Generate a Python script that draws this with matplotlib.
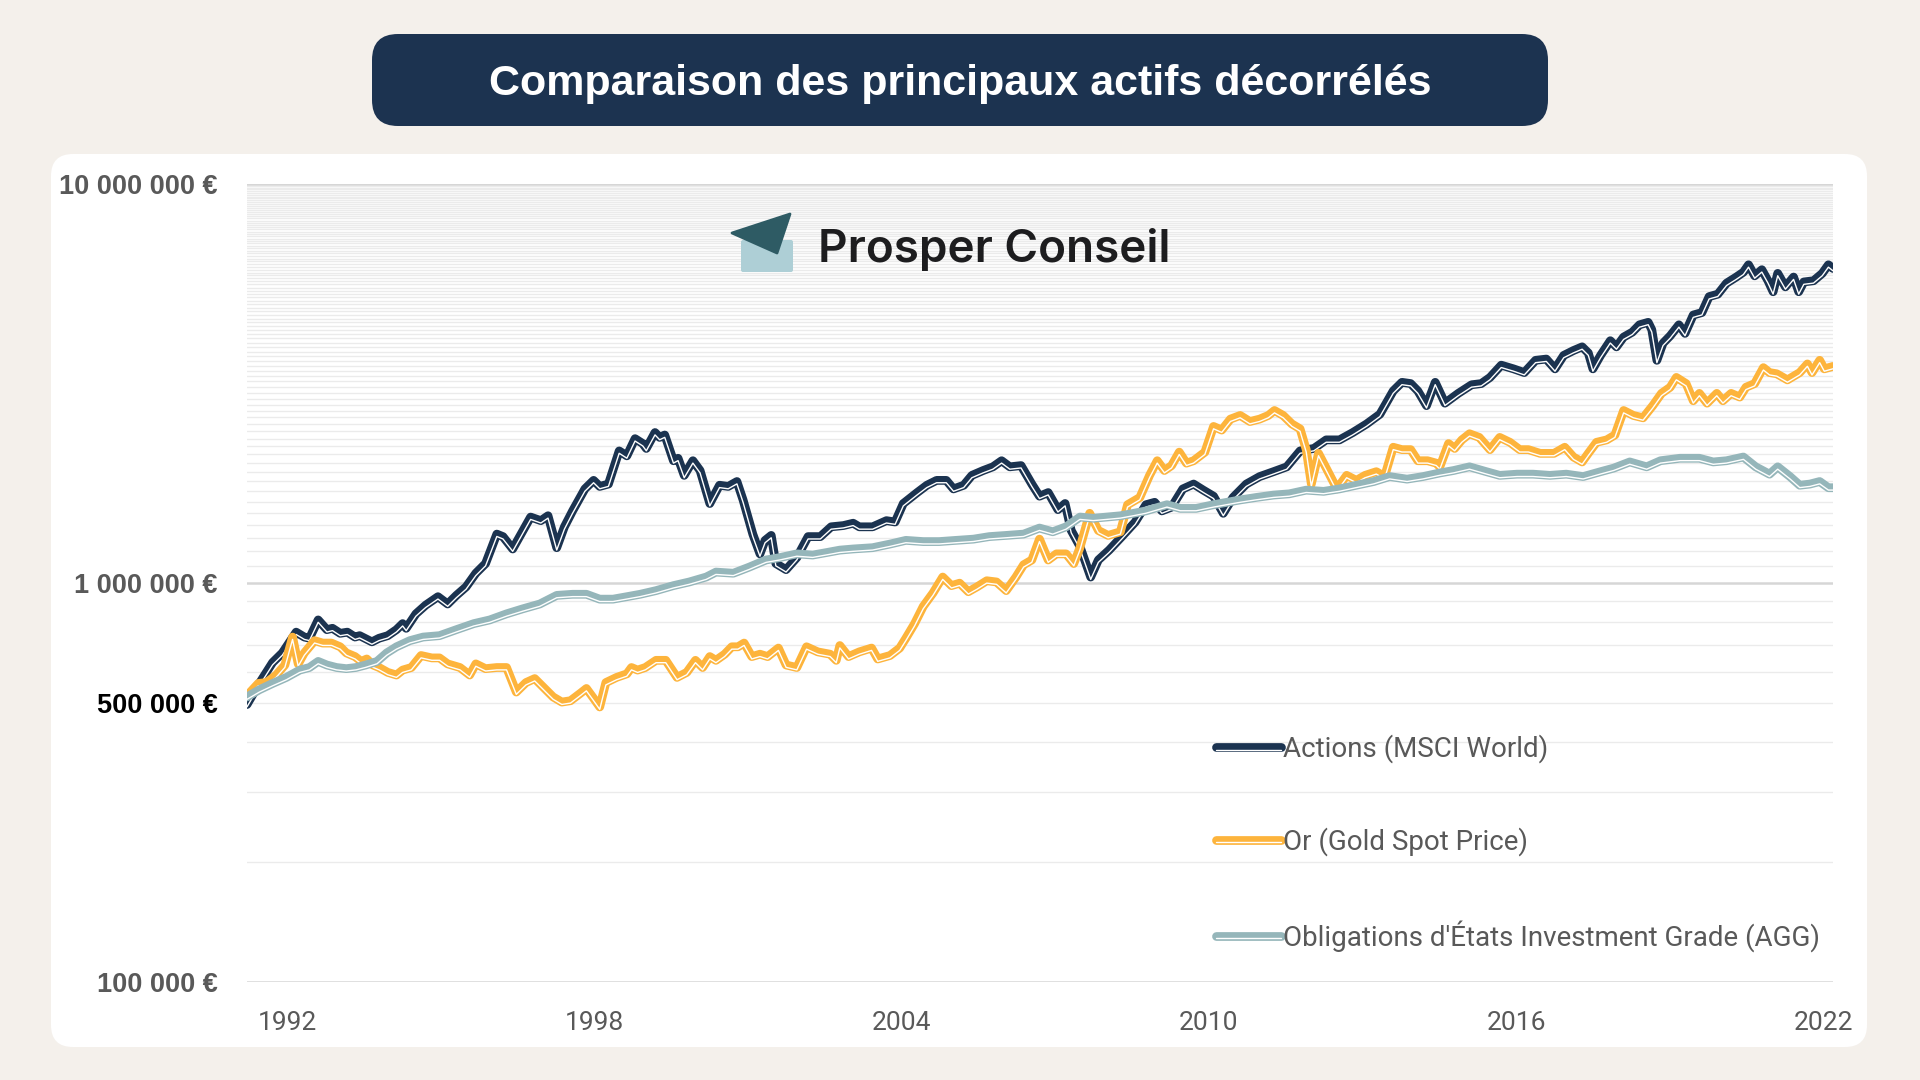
import numpy as np
import matplotlib
matplotlib.use("Agg")
import matplotlib.pyplot as plt
import matplotlib.patheffects as pe
from matplotlib.patches import FancyBboxPatch, Polygon
from matplotlib.ticker import NullLocator, NullFormatter

# Données (valeurs en milliers d'euros)
actions_annees = [1991.21, 1991.45, 1991.71, 1991.90, 1992.17, 1992.33, 1992.43, 1992.60, 1992.77, 1992.88,
                  1993.03, 1993.17, 1993.32, 1993.41, 1993.51, 1993.65, 1993.79, 1993.96, 1994.13, 1994.25,
                  1994.32, 1994.51, 1994.70, 1994.94, 1995.13, 1995.30, 1995.49, 1995.68, 1995.87, 1996.09,
                  1996.21, 1996.40, 1996.59, 1996.75, 1996.95, 1997.09, 1997.26, 1997.41, 1997.57, 1997.81,
                  1997.98, 1998.10, 1998.27, 1998.48, 1998.63, 1998.79, 1998.94, 1999.01, 1999.18, 1999.27,
                  1999.37, 1999.54, 1999.63, 1999.75, 1999.92, 2000.06, 2000.25, 2000.44, 2000.61, 2000.78,
                  2000.90, 2001.09, 2001.23, 2001.33, 2001.45, 2001.54, 2001.74, 2001.95, 2002.17, 2002.41,
                  2002.62, 2002.86, 2003.05, 2003.17, 2003.43, 2003.70, 2003.87, 2004.03, 2004.30, 2004.49,
                  2004.68, 2004.87, 2005.01, 2005.21, 2005.37, 2005.59, 2005.78, 2005.95, 2006.11, 2006.33,
                  2006.54, 2006.69, 2006.86, 2007.05, 2007.19, 2007.31, 2007.48, 2007.69, 2007.84, 2008.05,
                  2008.32, 2008.56, 2008.77, 2008.94, 2009.08, 2009.27, 2009.49, 2009.70, 2009.89, 2010.09,
                  2010.28, 2010.47, 2010.73, 2010.99, 2011.26, 2011.52, 2011.78, 2012.05, 2012.29, 2012.55,
                  2012.81, 2013.08, 2013.34, 2013.60, 2013.77, 2013.94, 2014.08, 2014.25, 2014.42, 2014.61,
                  2014.87, 2015.13, 2015.32, 2015.49, 2015.71, 2015.95, 2016.16, 2016.38, 2016.59, 2016.76,
                  2016.93, 2017.12, 2017.29, 2017.41, 2017.50, 2017.65, 2017.84, 2017.96, 2018.10, 2018.27,
                  2018.41, 2018.58, 2018.65, 2018.75, 2018.87, 2019.01, 2019.18, 2019.30, 2019.46, 2019.63,
                  2019.77, 2019.94, 2020.11, 2020.30, 2020.44, 2020.54, 2020.66, 2020.80, 2020.92, 2021.02,
                  2021.11, 2021.26, 2021.42, 2021.52, 2021.62, 2021.81, 2021.98, 2022.10, 2022.19]
actions_k = [496, 560, 632, 668, 753, 732, 727, 808, 764, 770,
             748, 753, 732, 738, 727, 712, 727, 738, 764, 791,
             770, 837, 880, 924, 886, 931, 978, 1058, 1119, 1326,
             1307, 1217, 1344, 1463, 1433, 1474, 1226, 1383, 1516, 1721,
             1808, 1746, 1770, 2143, 2083, 2300, 2236, 2174, 2383, 2317,
             2349, 2025, 2054, 1861, 2025, 1914, 1582, 1758, 1746, 1796,
             1615, 1326, 1183, 1279, 1316, 1119, 1080, 1158, 1307, 1307,
             1383, 1393, 1412, 1383, 1383, 1433, 1422, 1582, 1685, 1758,
             1808, 1808, 1721, 1758, 1861, 1914, 1955, 2025, 1955, 1969,
             1770, 1650, 1685, 1527, 1582, 1354, 1235, 1035, 1142, 1209,
             1316, 1422, 1571, 1593, 1516, 1549, 1721, 1770, 1709, 1650,
             1495, 1638, 1770, 1848, 1901, 1955, 2143, 2174, 2284, 2284,
             2383, 2504, 2649, 3030, 3184, 3161, 3030, 2783, 3184, 2823,
             2987, 3139, 3161, 3275, 3515, 3441, 3368, 3615, 3641, 3441,
             3719, 3825, 3907, 3772, 3441, 3719, 4048, 3907, 4134, 4253,
             4437, 4501, 4314, 3615, 3991, 4164, 4437, 4223, 4695, 4762,
             5221, 5295, 5642, 5845, 6012, 6273, 5886, 6098, 5722, 5370,
             5970, 5524, 5845, 5370, 5682, 5722, 5970, 6273, 6142]

or_annees = [1991.21, 1991.43, 1991.59, 1991.78, 1991.95, 1992.10, 1992.21, 1992.33, 1992.53, 1992.69,
             1992.86, 1993.03, 1993.15, 1993.32, 1993.44, 1993.55, 1993.67, 1993.79, 1993.96, 1994.13,
             1994.25, 1994.42, 1994.61, 1994.82, 1994.97, 1995.13, 1995.37, 1995.56, 1995.68, 1995.87,
             1996.09, 1996.28, 1996.47, 1996.66, 1996.83, 1997.00, 1997.19, 1997.36, 1997.53, 1997.72,
             1997.84, 1997.98, 1998.10, 1998.22, 1998.43, 1998.63, 1998.72, 1998.84, 1998.99, 1999.20,
             1999.39, 1999.61, 1999.80, 1999.97, 2000.11, 2000.25, 2000.37, 2000.54, 2000.68, 2000.80,
             2000.92, 2001.07, 2001.23, 2001.38, 2001.59, 2001.74, 2001.95, 2002.14, 2002.36, 2002.60,
             2002.72, 2002.79, 2002.96, 2003.17, 2003.41, 2003.53, 2003.77, 2003.96, 2004.08, 2004.25,
             2004.42, 2004.61, 2004.80, 2004.97, 2005.13, 2005.30, 2005.47, 2005.66, 2005.85, 2006.04,
             2006.23, 2006.38, 2006.54, 2006.69, 2006.86, 2007.02, 2007.21, 2007.36, 2007.48, 2007.67,
             2007.84, 2008.03, 2008.27, 2008.41, 2008.65, 2008.84, 2008.99, 2009.13, 2009.27, 2009.42,
             2009.56, 2009.70, 2009.92, 2010.09, 2010.25, 2010.42, 2010.61, 2010.80, 2010.99, 2011.16,
             2011.28, 2011.45, 2011.62, 2011.78, 2011.90, 2012.00, 2012.14, 2012.29, 2012.50, 2012.69,
             2012.88, 2013.05, 2013.27, 2013.43, 2013.60, 2013.77, 2013.94, 2014.08, 2014.27, 2014.44,
             2014.51, 2014.68, 2014.80, 2014.94, 2015.09, 2015.28, 2015.49, 2015.68, 2015.88, 2016.07,
             2016.24, 2016.47, 2016.74, 2016.95, 2017.12, 2017.29, 2017.41, 2017.57, 2017.77, 2017.93,
             2018.10, 2018.29, 2018.48, 2018.67, 2018.84, 2019.01, 2019.13, 2019.32, 2019.46, 2019.58,
             2019.73, 2019.92, 2020.04, 2020.20, 2020.37, 2020.49, 2020.66, 2020.83, 2020.95, 2021.09,
             2021.30, 2021.54, 2021.69, 2021.78, 2021.93, 2022.02, 2022.19]
or_k = [522, 560, 563, 588, 623, 732, 627, 668, 717, 707,
        707, 692, 668, 654, 636, 645, 623, 614, 597, 588,
        605, 614, 658, 649, 649, 627, 614, 588, 627, 610,
        614, 614, 533, 563, 576, 548, 518, 503, 507, 529,
        544, 514, 489, 563, 580, 592, 614, 605, 614, 640,
        640, 580, 597, 640, 614, 654, 640, 663, 692, 692,
        707, 654, 663, 654, 687, 623, 614, 692, 672, 663,
        640, 697, 654, 672, 687, 645, 658, 687, 727, 791,
        874, 944, 1035, 985, 999, 951, 978, 1013, 1006, 957,
        1035, 1111, 1142, 1288, 1142, 1183, 1183, 1119, 1226, 1495,
        1354, 1316, 1344, 1571, 1638, 1861, 2025, 1914, 1969, 2128,
        1997, 2025, 2128, 2468, 2417, 2575, 2630, 2539, 2575, 2630,
        2706, 2630, 2504, 2434, 2159, 1770, 2113, 1941, 1721, 1861,
        1808, 1861, 1901, 1848, 2189, 2159, 2159, 2025, 2025, 1997,
        1955, 2236, 2174, 2284, 2366, 2317, 2159, 2317, 2252, 2159,
        2159, 2113, 2113, 2189, 2069, 2011, 2113, 2252, 2284, 2349,
        2706, 2630, 2594, 2783, 2987, 3095, 3275, 3161, 2863, 2987,
        2823, 2987, 2863, 2987, 2924, 3095, 3161, 3465, 3368, 3345,
        3229, 3368, 3540, 3368, 3615, 3441, 3490]

oblig_annees = [1991.21, 1991.45, 1991.71, 1991.98, 1992.24, 1992.43, 1992.60, 1992.77, 1992.96, 1993.15,
                1993.34, 1993.53, 1993.75, 1993.94, 1994.13, 1994.39, 1994.65, 1994.97, 1995.30, 1995.64,
                1995.95, 1996.28, 1996.59, 1996.93, 1997.26, 1997.57, 1997.84, 1998.10, 1998.36, 1998.63,
                1998.89, 1999.20, 1999.54, 1999.85, 2000.18, 2000.37, 2000.71, 2001.02, 2001.35, 2001.62,
                2001.95, 2002.26, 2002.53, 2002.79, 2003.05, 2003.43, 2003.77, 2004.08, 2004.42, 2004.73,
                2005.06, 2005.40, 2005.71, 2006.04, 2006.38, 2006.69, 2006.95, 2007.21, 2007.48, 2007.74,
                2008.00, 2008.27, 2008.53, 2008.77, 2009.18, 2009.44, 2009.75, 2010.09, 2010.35, 2010.61,
                2010.92, 2011.26, 2011.57, 2011.90, 2012.24, 2012.55, 2012.88, 2013.22, 2013.53, 2013.87,
                2014.18, 2014.51, 2014.78, 2015.09, 2015.42, 2015.68, 2016.02, 2016.33, 2016.66, 2016.98,
                2017.31, 2017.65, 2017.91, 2018.22, 2018.55, 2018.82, 2019.20, 2019.58, 2019.85, 2020.11,
                2020.44, 2020.68, 2020.95, 2021.11, 2021.35, 2021.54, 2021.74, 2021.93, 2022.10, 2022.19]
oblig_k = [518, 540, 560, 580, 605, 614, 636, 623, 614, 610,
           614, 623, 636, 668, 692, 717, 732, 738, 764, 791,
           808, 837, 861, 886, 931, 937, 937, 911, 911, 924,
           937, 957, 985, 1006, 1035, 1065, 1058, 1096, 1142, 1158,
           1183, 1175, 1192, 1209, 1217, 1226, 1252, 1279, 1270, 1270,
           1279, 1288, 1307, 1316, 1326, 1373, 1344, 1383, 1463, 1453,
           1463, 1474, 1495, 1516, 1571, 1538, 1538, 1571, 1593, 1615,
           1638, 1661, 1673, 1709, 1697, 1721, 1758, 1796, 1848, 1821,
           1848, 1887, 1914, 1955, 1901, 1861, 1874, 1874, 1861, 1874,
           1848, 1901, 1941, 2011, 1955, 2025, 2054, 2054, 2011, 2025,
           2069, 1955, 1874, 1955, 1848, 1758, 1770, 1796, 1733, 1733]

noms = ["Actions (MSCI World)", "Or (Gold Spot Price)", "Obligations d'États Investment Grade (AGG)"]
couleurs = ["#1B3350", "#FDB43C", "#95B6BA"]

annees_ticks = [1992, 1998, 2004, 2010, 2016, 2022]
y_ticks = [1e5, 5e5, 1e6, 1e7]
y_labels = ["100 000 €", "500 000 €", "1 000 000 €", "10 000 000 €"]

etroite = ["Roboto", "DejaVu Sans"]
gris = "#595959"

fig = plt.figure(figsize=(19.2, 10.8), dpi=100)
fig.patch.set_facecolor("#F4F0EB")

# Fond, cadre blanc et bandeau de titre (coordonnees en pixels)
bg = fig.add_axes([0, 0, 1, 1])
bg.set_xlim(0, 1920)
bg.set_ylim(1080, 0)
bg.axis("off")
bg.add_patch(FancyBboxPatch((51, 154), 1816, 893, boxstyle="round,pad=0,rounding_size=22",
                            fc="white", ec="none"))
bg.add_patch(FancyBboxPatch((372, 34), 1176, 92, boxstyle="round,pad=0,rounding_size=26",
                            fc="#1C3350", ec="none"))
bg.text(960, 84, "Comparaison des principaux actifs décorrélés", ha="center", va="center",
        color="white", fontsize=31, fontweight="bold", family="Liberation Sans")

# Graphique principal
ax = fig.add_axes([247 / 1920, 98 / 1080, 1586 / 1920, 798 / 1080])
ax.set_facecolor("none")
ax.set_yscale("log")
ax.set_ylim(1e5, 1e7)
ax.set_xlim(actions_annees[0], actions_annees[-1])
for s in ax.spines.values():
    s.set_visible(False)

# quadrillage tous les 100 000 €
mineures = np.concatenate([np.arange(2, 10), np.arange(11, 100)]) * 1e5
for v in mineures:
    ax.axhline(v, color="#EBEBEB", lw=1.0, zorder=0)
for v in [1e5, 1e6, 1e7]:
    ax.axhline(v, color="#D6D6D6", lw=1.8, zorder=0)

donnees = [(actions_annees, actions_k), (or_annees, or_k), (oblig_annees, oblig_k)]
for (x, yk), nom, c in zip(donnees, noms, couleurs):
    ax.plot(x, np.array(yk) * 1000, color=c, lw=6.3, label=nom,
            solid_joinstyle="round", solid_capstyle="round",
            path_effects=[pe.Normal(),
                          pe.Stroke(offset=(0, -1.7), linewidth=1.0, foreground="white")])

ax.set_xticks(annees_ticks, [str(a) for a in annees_ticks], family=etroite, fontsize=19, color=gris)
ax.set_yticks(y_ticks, y_labels, family="Liberation Sans", fontweight="bold", fontsize=19.5)
ax.yaxis.set_minor_locator(NullLocator())
ax.yaxis.set_minor_formatter(NullFormatter())
for lbl in ax.get_yticklabels():
    lbl.set_color("black" if lbl.get_text() == "500 000 €" else gris)
ax.tick_params(axis="x", length=0, pad=21)
ax.tick_params(axis="y", length=0, pad=21)

ax.legend(loc="upper left", bbox_to_anchor=(0.611, 0.310), frameon=False,
          prop={"family": etroite, "size": 20}, labelcolor=gris,
          handlelength=2.35, handletextpad=0.05, labelspacing=2.3,
          borderpad=0, borderaxespad=0)

# Logo Prosper Conseil
top = fig.add_axes([0, 0, 1, 1], zorder=5)
top.set_xlim(0, 1920)
top.set_ylim(1080, 0)
top.axis("off")
top.add_patch(FancyBboxPatch((741, 240), 52, 32, boxstyle="round,pad=0,rounding_size=2",
                             fc="#AECFD6", ec="none"))
top.add_patch(Polygon([(732, 233), (790, 214), (777, 253)], closed=True, fc="#2E5B64",
                      ec="#2E5B64", lw=2, joinstyle="round"))
top.text(818, 262, "Prosper Conseil", ha="left", va="baseline", fontsize=33,
         family=["Inter", "DejaVu Sans"], fontweight="semibold", color="#1D1D1F")

fig.savefig("out.png", dpi=100)
